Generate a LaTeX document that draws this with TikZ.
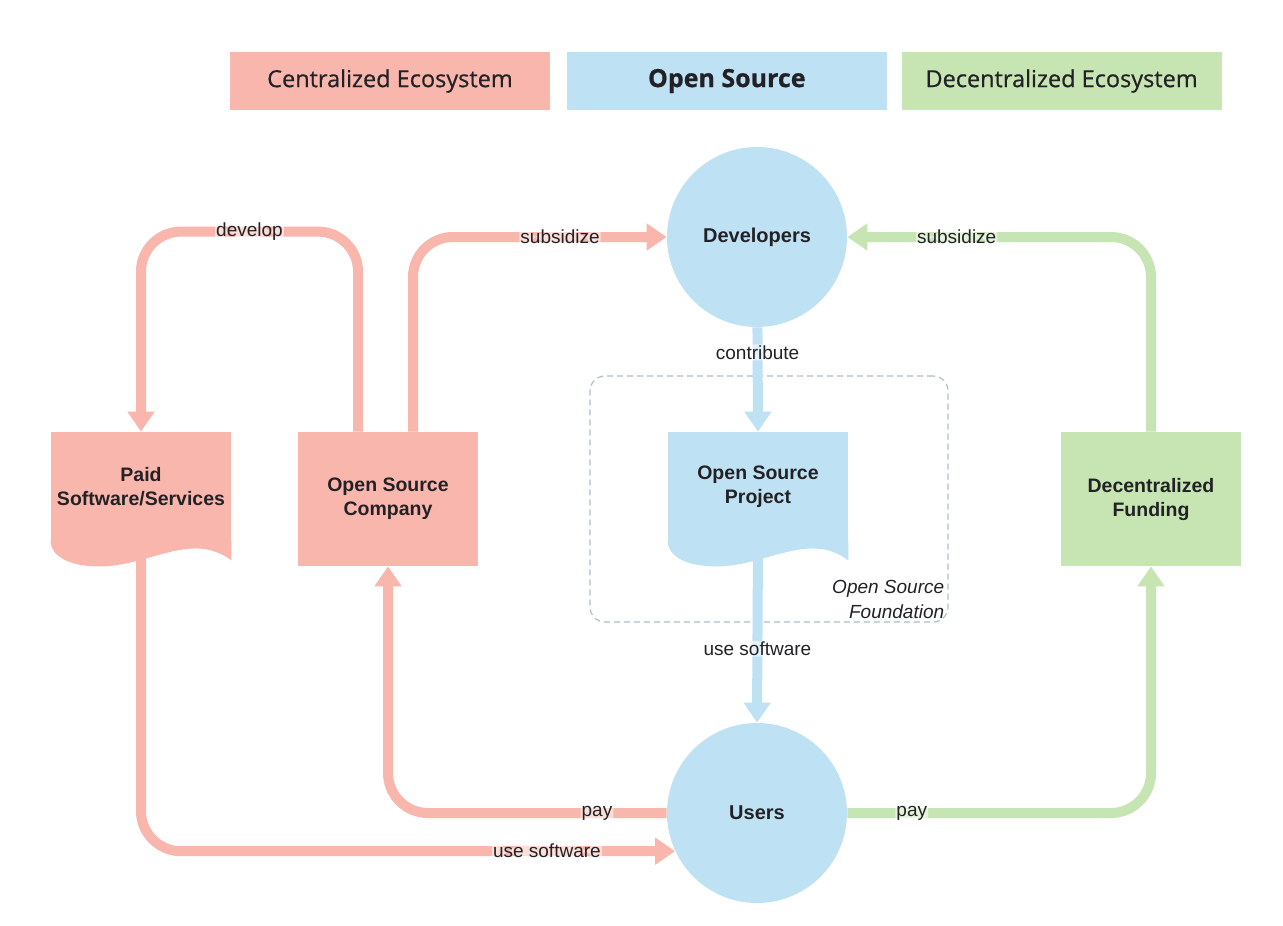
\documentclass[tikz,border=0pt]{standalone}
\usepackage{fontspec}
\setmainfont{Liberation Sans}
\newfontfamily\legendfont[FakeBold=0.6]{Open Sans}
\usetikzlibrary{positioning,arrows.meta}

\definecolor{redfill}{RGB}{249,182,172}
\definecolor{bluefill}{RGB}{191,225,244}
\definecolor{greenfill}{RGB}{199,229,178}
\definecolor{darktext}{RGB}{34,34,38}
\definecolor{dashgray}{RGB}{172,192,206}

\begin{document}
\begin{tikzpicture}[x=1pt, y=-1pt, thick,
    legend/.style = {minimum width=320pt, minimum height=58pt, inner sep=0pt,
        font=\legendfont\fontsize{23.5}{28}\selectfont, text=darktext},
    box/.style = {rectangle, minimum width=180pt, minimum height=134pt, inner sep=0pt,
        align=center, text=darktext, font=\bfseries\fontsize{19.5}{24}\selectfont},
    doc/.style = {box, minimum height=110pt},
    actor/.style = {circle, fill=bluefill, minimum size=180pt, inner sep=0pt,
        text=darktext, font=\bfseries\fontsize{20}{24}\selectfont},
    flow/.style = {line width=10pt, rounded corners=40pt,
        -{Triangle[length=20pt, width=26pt]}},
    lbl/.style = {fill=white, fill opacity=0.55, text opacity=1, inner sep=1pt,
        text=darktext, font=\fontsize{19}{22}\selectfont}]
        \useasboundingbox[fill=white] (0,0) rectangle (1283,926);

        % legend
        \node[legend, fill=redfill] (lcen) at (390,81) {Centralized Ecosystem};
        \node[legend, fill=bluefill, right=16pt of lcen] (los) {\fontsize{25}{28}\selectfont\bfseries Open Source};
        \node[legend, fill=greenfill, right=14pt of los] (ldec) {Decentralized Ecosystem};

        % foundation
        \node[draw=dashgray, line width=1.2pt, dash pattern=on 6pt off 4pt, rounded corners=15pt,
            minimum width=358pt, minimum height=246pt] (found) at (769,499) {};
        \node[anchor=south east, align=right, inner sep=4pt, text=darktext,
            font=\itshape\fontsize{19}{25}\selectfont] (foundlbl) at (found.south east)
            {Open Source\\Foundation};

        % nodes
        \node[actor] (devs)  at (757,237) {Developers};
        \node[actor] (users) at (757,813) {Users};
        \node[doc, fill=redfill]   (paid)    at (141,487) {Paid\\Software/Services};
        \node[box, fill=redfill]   (company) at (388,499) {Open Source\\Company};
        \node[doc, fill=bluefill]  (proj)    at (758,487) {Open Source\\Project};
        \node[box, fill=greenfill] (fund)    at (1151,499) {Decentralized\\Funding};

        % wavy bottoms
        \fill[redfill] ([yshift=2pt]paid.south east) -- ++(0,20) .. controls +(-40,-30) and +(50,0) .. ++(-132,6)
            .. controls +(-30,0) and +(0,16) .. ([yshift=2pt]paid.south west) -- cycle;
        \fill[bluefill] ([yshift=2pt]proj.south east) -- ++(0,20) .. controls +(-40,-30) and +(50,0) .. ++(-132,6)
            .. controls +(-30,0) and +(0,16) .. ([yshift=2pt]proj.south west) -- cycle;

        % connectors
        \draw[flow, redfill] ([xshift=-30pt]company.north) -- ++(0,-200)
            -| node[lbl, pos=0.25] {develop} (paid.north);
        \draw[flow, redfill] ([xshift=25pt]company.north) |- node[lbl, pos=0.79] {subsidize} (devs.west);
        \draw[flow, greenfill] (fund.north) |- node[lbl, pos=0.82] {subsidize} (devs.east);
        \draw[flow, bluefill] (devs) -- node[lbl, pos=0.24] {contribute} (proj.north);
        \draw[flow, bluefill] (proj.south) -- node[lbl, pos=0.59] {use software} (users.north);
        \draw[flow, redfill] (users.west) -| node[lbl, pos=0.125] {pay} (company.south);
        \draw[flow, redfill] ([yshift=-16pt]paid.south) |- node[lbl, pos=0.88] {use software} (users.205);
        \draw[flow, greenfill] (users.east) -| node[lbl, pos=0.106] {pay} (fund.south);
    \end{tikzpicture}
\end{document}
